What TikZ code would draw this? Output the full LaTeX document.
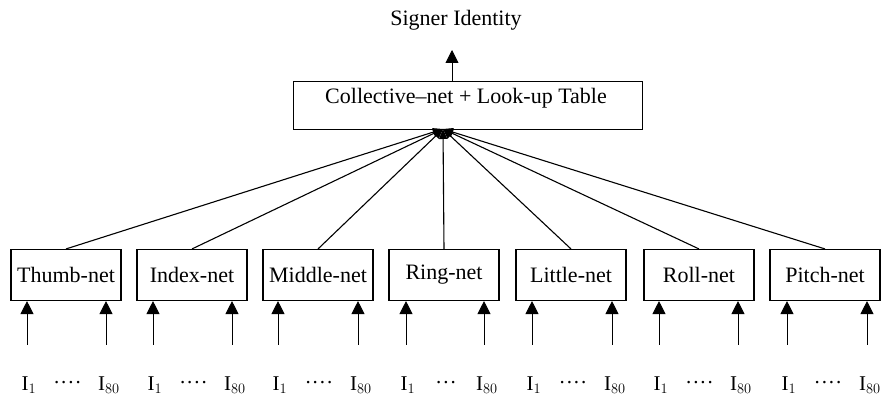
\documentclass[tikz,border=0pt]{standalone}
\usepackage{fontspec}
\setmainfont{Liberation Serif}
\usetikzlibrary{arrows.meta}
\begin{document}
\begin{tikzpicture}[x=1pt,y=-1pt,
  netbox/.style={draw,line width=1.1pt,minimum width=110pt,minimum height=51pt,inner sep=0pt,font=\fontsize{22}{24}\selectfont},
  arr/.style={line width=0.9pt,-{Triangle[width=13pt,length=13pt]}},
  conv/.style={line width=1.1pt,-{Triangle[width=8pt,length=10pt]}},
  lab/.style={font=\fontsize{21}{23}\selectfont,inner sep=0pt}]
\useasboundingbox (0,0) rectangle (881,395);
\node[font=\fontsize{22}{24}\selectfont] (sid) at (456,20) {Signer Identity};
\node[draw,line width=1.1pt,minimum width=349pt,minimum height=48pt,inner sep=0pt,
      anchor=north west] (col) at (293,81) {};
\node[font=\fontsize{22}{24}\selectfont] (coltxt) at (466,98) {Collective--net + Look-up Table};
\coordinate (top) at (452,50);
\draw[arr] (452,81) -- (top);
\coordinate (cv) at (443,129);
\node[netbox] (b1) at (66,275) {Thumb-net};
\node[netbox] (b2) at (192,275) {Index-net};
\node[netbox] (b3) at (318,275) {Middle-net};
\node[netbox] (b4) at (444,275) {Ring-net};
\node[netbox] (b5) at (571,275) {Little-net};
\node[netbox] (b6) at (699,275) {Roll-net};
\node[netbox] (b7) at (825,275) {Pitch-net};
\foreach \b in {b1,b2,b3,b4,b5,b6,b7}{\draw[conv] (\b.north) -- (cv);}
\foreach \b/\xa/\xb/\dd in {b1/27/106/{.\kern2pt.\kern2pt.\kern2pt.},b2/153/232/{.\kern2pt.\kern2pt.\kern2pt.},b3/278/358/{.\kern2pt.\kern2pt.\kern2pt.},b4/406/484/{.\kern2pt.\kern2pt.},b5/532/612/{.\kern2pt.\kern2pt.\kern2pt.},b6/659/738/{.\kern2pt.\kern2pt.\kern2pt.},b7/787/867/{.\kern2pt.\kern2pt.\kern2pt.}}{
  \coordinate (\b a) at (\xa,345);
  \coordinate (\b b) at (\xb,345);
  \draw[arr] (\b a) -- (\b a |- \b.south);
  \draw[arr] (\b b) -- (\b b |- \b.south);
  \node[lab] (\b la) at (\xa+2,385) {I$_1$};
  \node[lab] (\b lb) at (\xb+3,385) {I$_{80}$};
  \node[lab] (\b ld) at ({(\xa+\xb)/2+1},383) {\dd};
}
\end{tikzpicture}
\end{document}
